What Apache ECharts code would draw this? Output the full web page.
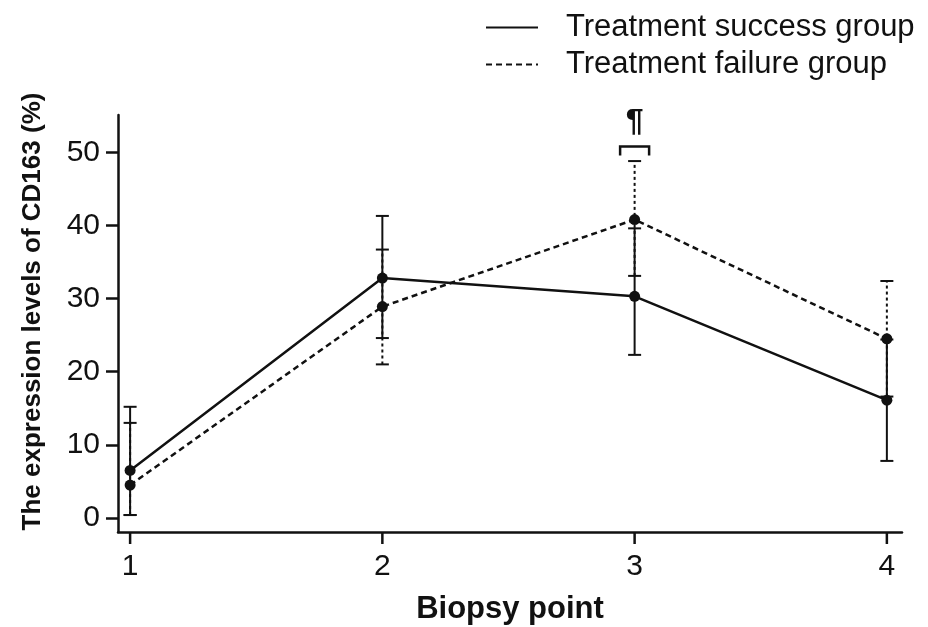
<!DOCTYPE html>
<html>
<head>
<meta charset="utf-8">
<script src="https://cdn.jsdelivr.net/npm/echarts@6/dist/echarts.min.js"></script>
<style>html,body{margin:0;padding:0;background:#fff}#c{width:928px;height:627px}</style>
</head>
<body>
<div id="c"></div>
<script>
// ---- data ----
const biopsyPoints = [1, 2, 3, 4];
const successName = 'Treatment success group';
const failureName = 'Treatment failure group';
const successMean = [6.5, 32.8, 30.3, 16.1];
const successLow  = [0.4, 24.6, 22.3, 7.8];
const successHigh = [15.2, 41.3, 39.6, 24.4];
const failureMean = [4.5, 28.9, 40.8, 24.5];
const failureLow  = [0.4, 21.0, 33.1, 16.6];
const failureHigh = [13.0, 36.7, 48.8, 32.4];
const yTicks = [0, 10, 20, 30, 40, 50];
const xTicks = [1, 2, 3, 4];
const sigMark = [[3, 50.8, '¶']];

const FONT = "'Liberation Sans', Arial, sans-serif";
const INK = '#111';
const Y_MIN = -1.92, Y_MAX = 55.1;
const TICK_LEN = 12;

function pairs(xs, ys) { return xs.map((x, i) => [x, ys[i]]); }
function bars(xs, lo, hi) { return xs.map((x, i) => [x, lo[i], hi[i]]); }

function errRender(dash) {
  return function (params, api) {
    const x = api.value(0);
    const a = api.coord([x, api.value(1)]);
    const b = api.coord([x, api.value(2)]);
    const hw = 6.5;
    const st = { stroke: INK, lineWidth: 2 };
    return {
      type: 'group',
      children: [
        { type: 'line', shape: { x1: a[0], y1: a[1], x2: b[0], y2: b[1] },
          style: Object.assign({}, st, dash ? { lineDash: [3, 3] } : {}) },
        { type: 'line', shape: { x1: a[0] - hw, y1: a[1], x2: a[0] + hw, y2: a[1] }, style: st },
        { type: 'line', shape: { x1: b[0] - hw, y1: b[1], x2: b[0] + hw, y2: b[1] }, style: st }
      ]
    };
  };
}

const chart = echarts.init(document.getElementById('c'), null, { renderer: 'canvas' });
chart.setOption({
  animation: false,
  backgroundColor: '#fff',
  textStyle: { fontFamily: FONT },
  grid: { left: 118, right: 26, top: 115, bottom: 95, containLabel: false, outerBoundsMode: 'none' },
  legend: {
    orient: 'vertical',
    left: 480,
    top: 7,
    itemWidth: 52,
    itemHeight: 20,
    itemGap: 6,
    data: [successName, failureName],
    itemStyle: { opacity: 0, borderWidth: 0 },
    textStyle: { fontSize: 31, color: INK, fontFamily: FONT, padding: [0, 0, 0, 23] }
  },
  xAxis: {
    type: 'value',
    position: 'bottom',
    min: 0.952,
    max: 4.06,
    name: 'Biopsy point',
    nameLocation: 'middle',
    nameGap: 62,
    nameTextStyle: { fontSize: 31, fontWeight: 'bold', color: INK, fontFamily: FONT },
    axisLine: { show: true, onZero: false, lineStyle: { color: INK, width: 2.5 } },
    axisTick: { show: false },
    axisLabel: { customValues: xTicks, fontSize: 30, color: INK, margin: 20, fontFamily: FONT },
    splitLine: { show: false }
  },
  yAxis: {
    type: 'value',
    position: 'left',
    min: Y_MIN,
    max: Y_MAX,
    name: 'The expression levels of CD163 (%)',
    nameLocation: 'middle',
    nameGap: 72,
    nameTextStyle: { fontSize: 26, fontWeight: 'bold', color: INK, fontFamily: FONT, padding: [0, 0, 0, 24] },
    axisLine: { show: true, onZero: false, lineStyle: { color: INK, width: 2.5 } },
    axisTick: { show: true, inside: false, length: TICK_LEN, customValues: yTicks, lineStyle: { color: INK, width: 2.5 } },
    axisLabel: { customValues: yTicks, fontSize: 30, color: INK, margin: 18, fontFamily: FONT },
    splitLine: { show: false }
  },
  series: [
    {
      name: failureName + ' err', type: 'custom', z: 2,
      data: bars(biopsyPoints, failureLow, failureHigh),
      renderItem: errRender(true), silent: true
    },
    {
      name: successName + ' err', type: 'custom', z: 3,
      data: bars(biopsyPoints, successLow, successHigh),
      renderItem: errRender(false), silent: true
    },
    {
      name: successName, type: 'line', z: 4, symbol: 'none',
      data: pairs(biopsyPoints, successMean),
      lineStyle: { color: INK, width: 2.5, type: 'solid' },
      itemStyle: { color: INK }
    },
    {
      name: failureName, type: 'line', z: 4, symbol: 'none',
      data: pairs(biopsyPoints, failureMean),
      lineStyle: { color: INK, width: 2.5, type: [6, 4] },
      itemStyle: { color: INK }
    },
    {
      name: 'markers', type: 'scatter', z: 5, symbol: 'circle', symbolSize: 11,
      data: pairs(biopsyPoints, successMean).concat(pairs(biopsyPoints, failureMean)),
      itemStyle: { color: INK, opacity: 1 }
    },
    {
      name: 'sig', type: 'custom', z: 6, silent: true, clip: false,
      data: sigMark,
      renderItem: function (params, api) {
        const p = api.coord([api.value(0), api.value(1)]);
        const hw = 14.5, leg = 9;
        const st = { stroke: INK, lineWidth: 2.5, fill: null };
        return {
          type: 'group',
          children: [
            { type: 'polyline', shape: { points: [[p[0] - hw, p[1] + leg], [p[0] - hw, p[1]], [p[0] + hw, p[1]], [p[0] + hw, p[1] + leg]] }, style: st },
            { type: 'text', x: p[0], y: p[1] - 8,
              style: { text: sigMark[params.dataIndex][2], font: 'bold 32px ' + FONT, fill: INK, align: 'center', verticalAlign: 'bottom' } }
          ]
        };
      }
    }
  ]
});

// x-axis ticks, placed through the chart's own x scale
const tickGraphics = xTicks.map(function (v) {
  const p = chart.convertToPixel({ gridIndex: 0 }, [v, Y_MIN]);
  return {
    type: 'rect', z: 100,
    shape: { x: p[0] - 1.25, y: p[1], width: 2.5, height: TICK_LEN },
    style: { fill: INK }
  };
});
chart.setOption({ graphic: tickGraphics });
</script>
</body>
</html>
